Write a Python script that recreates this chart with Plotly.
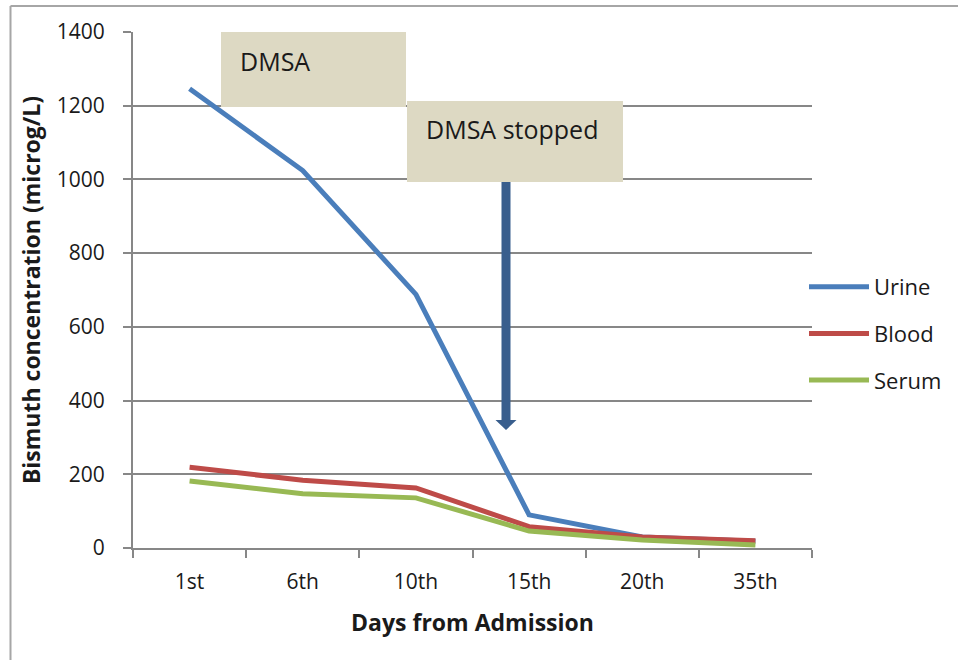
import plotly.graph_objects as go

days = ["1st", "6th", "10th", "15th", "20th", "35th"]
urine = [1246, 1024, 688, 90, 30, 18]
blood = [219, 184, 163, 58, 30, 20]
serum = [182, 147, 136, 46, 22, 8]

colors = {"Urine": "#4A7EBB", "Blood": "#BE4B48", "Serum": "#98B954"}
FONT = "Open Sans"
GRID = "#878787"
TXT = "#1a1a1a"

fig = go.Figure()
for name, vals in [("Urine", urine), ("Blood", blood), ("Serum", serum)]:
    fig.add_trace(go.Scatter(x=days, y=vals, mode="lines", name=name,
                             legendgroup=name,
                             line=dict(color=colors[name], width=5)))

L, R, T, B = 133, 146, 32, 112
W, H = 958, 660
pw = W - L - R
ph = H - T - B

def px(x):
    return (x - L) / pw

def py(y):
    return (H - B - y) / ph

shapes = []
# outer frame (top and left edges only visible)
shapes.append(dict(type="line", xref="paper", yref="paper",
                   x0=px(10.5), x1=px(10.5), y0=py(6), y1=py(660),
                   line=dict(color="#A6A6A6", width=2), layer="above"))
shapes.append(dict(type="line", xref="paper", yref="paper",
                   x0=px(10.5), x1=px(958), y0=py(6), y1=py(6),
                   line=dict(color="#A6A6A6", width=2), layer="above"))
# DMSA box
shapes.append(dict(type="rect", xref="paper", yref="paper",
                   x0=px(221), x1=px(406), y0=py(107), y1=py(32),
                   line=dict(width=0), fillcolor="#DDD9C3", layer="above"))
# DMSA stopped box
shapes.append(dict(type="rect", xref="paper", yref="paper",
                   x0=px(407), x1=px(623), y0=py(182), y1=py(101),
                   line=dict(width=0), fillcolor="#DDD9C3", layer="above"))
# arrow
ax = px(506)
sw = 4.5 / pw
hw = 10.5 / pw
ytop, ybase, ytip = py(182), py(420), py(430)
path = (f"M{ax-sw},{ytop} L{ax+sw},{ytop} L{ax+sw},{ybase} L{ax+hw},{ybase} "
        f"L{ax},{ytip} L{ax-hw},{ybase} L{ax-sw},{ybase} Z")
shapes.append(dict(type="path", xref="paper", yref="paper", path=path,
                   line=dict(width=0), fillcolor="#395E8D", layer="above"))

annotations = [
    dict(text="DMSA", xref="paper", yref="paper", x=px(238), y=py(61),
         xanchor="left", yanchor="middle", showarrow=False,
         font=dict(family=FONT, size=25, color=TXT)),
    dict(text="DMSA stopped", xref="paper", yref="paper", x=px(424), y=py(129),
         xanchor="left", yanchor="middle", showarrow=False,
         font=dict(family=FONT, size=25, color=TXT)),
]

fig.update_layout(
    width=W, height=H,
    margin=dict(l=L, r=R, t=T, b=B, pad=0, autoexpand=False),
    paper_bgcolor="white", plot_bgcolor="white",
    font=dict(family=FONT, size=21, color=TXT),
    shapes=shapes, annotations=annotations,
    legend=dict(xref="container", yref="container",
                x=804 / W, y=1 - 266 / H, xanchor="left", yanchor="top",
                font=dict(family=FONT, size=22, color=TXT),
                tracegroupgap=15, traceorder="grouped",
                bgcolor="rgba(0,0,0,0)", itemwidth=60),
    xaxis=dict(type="category", showgrid=False, showline=True, linecolor=GRID, linewidth=2,
               ticks="outside", ticklen=8, tickwidth=2, tickcolor=GRID,
               tickson="boundaries", ticklabelstandoff=14,
               tickfont=dict(family=FONT, size=21, color=TXT),
               title=dict(text="<b>Days from Admission</b>", standoff=21,
                          font=dict(family=FONT, size=23, color=TXT)),
               range=[-0.5, 5.5]),
    yaxis=dict(range=[0, 1400], dtick=200, showgrid=True, gridcolor=GRID, gridwidth=2,
               zeroline=False, showline=True, linecolor=GRID, linewidth=2,
               ticks="outside", ticklen=8, tickwidth=2, tickcolor=GRID,
               ticklabelstandoff=14,
               tickfont=dict(family=FONT, size=21, color=TXT),
               title=dict(text="<b>Bismuth concentration (microg/L)</b>", standoff=10,
                          font=dict(family=FONT, size=23, color=TXT))),
)

fig.write_html("out.html", config={"displayModeBar": False},
               post_script="document.body.style.margin='0';")
